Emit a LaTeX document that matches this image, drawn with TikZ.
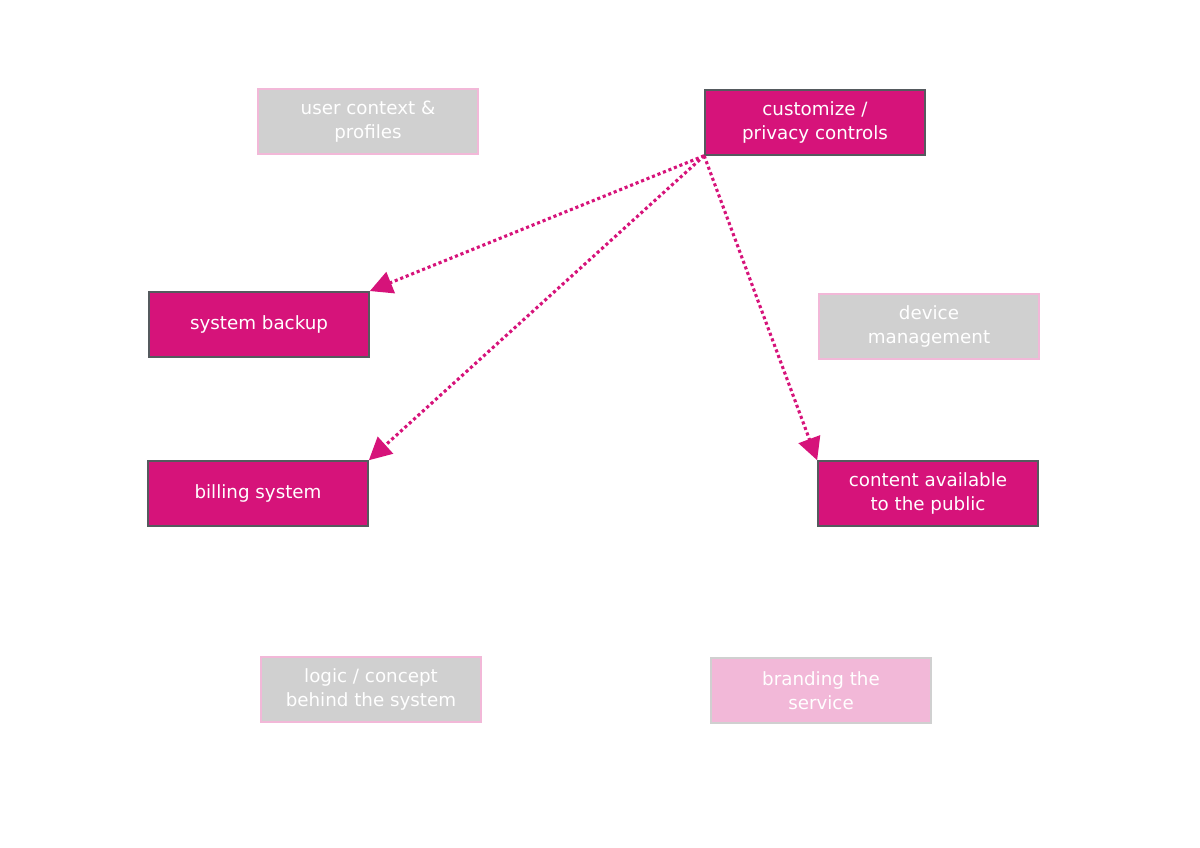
\documentclass[tikz,border=0pt]{standalone}
\usepackage{fontspec}
\setmainfont{DejaVu Sans}
\usetikzlibrary{arrows.meta,positioning}
\definecolor{magenta}{HTML}{D6137A}
\definecolor{boxgray}{HTML}{D0D0D0}
\definecolor{rimgray}{HTML}{555A5E}
\definecolor{rimpink}{HTML}{F2B8D8}
\definecolor{lightpink}{HTML}{F2B8D8}
\tikzset{
  box/.style={minimum width=5.5cm, minimum height=1.625cm, align=center,
    text=white, font=\fontsize{13}{17}\selectfont, line width=1.2pt},
  hotbox/.style={box, fill=magenta, draw=rimgray},
  dimbox/.style={box, fill=boxgray, draw=rimpink},
  pinkbox/.style={box, fill=lightpink, draw=boxgray},
  link/.style={magenta, line width=2.2pt, dotted, -{Triangle[length=16pt,width=16pt]}}
}
\begin{document}
\begin{tikzpicture}
			\useasboundingbox (0,0) rectangle (30,21.2);
			\node[dimbox] (user) at (9.2,18.16) {user context \&\\profiles};
			\node[hotbox] (custom) at (20.375,18.14) {customize /\\privacy controls};
			\node[hotbox] (backup) at (6.475,13.09) {system backup};
			\node[dimbox] (device) at (23.225,13.04) {device\\management};
			\node[hotbox] (billing) at (6.45,8.86) {billing system};
			\node[hotbox] (content) at (23.2,8.86) {content available\\to the public};
			\node[dimbox] (logic) at (9.275,3.96) {logic / concept\\behind the system};
			\node[pinkbox] (brand) at (20.525,3.94) {branding the\\service};
			
			\draw[link] (custom.south west) -- (backup.north east);
			\draw[link] (custom.south west) -- (billing.north east);
			\draw[link] (custom.south west) -- (content.north west);
\end{tikzpicture}
\end{document}
